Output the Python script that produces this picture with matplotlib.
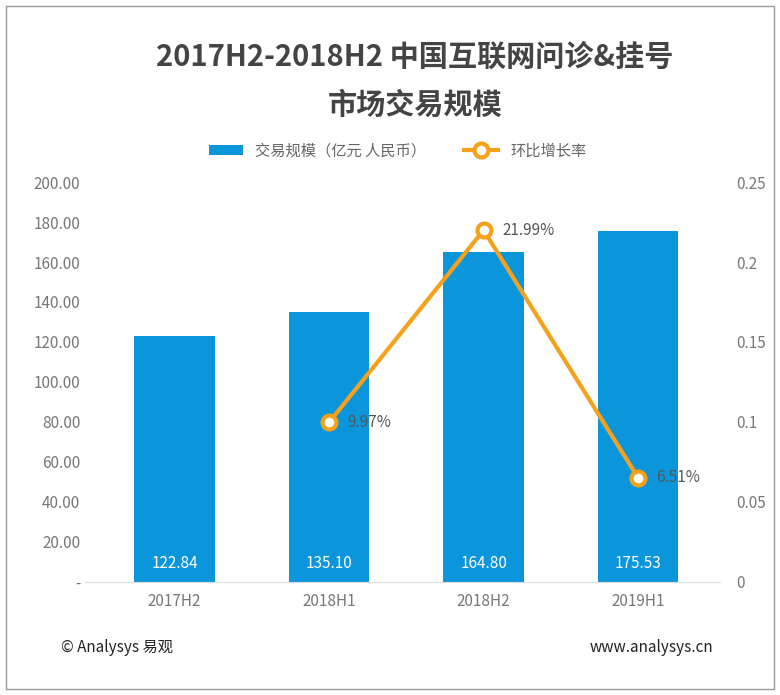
import matplotlib.pyplot as plt
from matplotlib.patches import Rectangle

plt.rcParams['font.family'] = ['Noto Sans CJK SC', 'DejaVu Sans']

periods = ['2017H2', '2018H1', '2018H2', '2019H1']
scale = [122.84, 135.10, 164.80, 175.53]
growth = [None, 0.0997, 0.2199, 0.0651]
growth_labels = ['', '9.97%', '21.99%', '6.51%']

fig = plt.figure(figsize=(7.8, 6.95), dpi=100)
fig.patches.append(Rectangle((0.008, 0.008), 0.984, 0.984, transform=fig.transFigure,
                             fill=False, edgecolor='#999999', lw=1))
ax = fig.add_axes([0.109, 0.163, 0.814, 0.575])
ax2 = ax.twinx()

x = list(range(len(periods)))
ax.bar(x, scale, width=0.52, color='#0b96dc', label='交易规模（亿元 人民币）', zorder=2)
for xi, v in zip(x, scale):
    ax.text(xi, 9, f'{v:.2f}', color='white', ha='center', va='center', fontsize=11)
ax.set_ylim(0, 200)
ax.set_xlim(-0.58, 3.53)
ax.set_yticks(range(0, 201, 20))
ax.set_yticklabels(['-'] + [f'{v:.2f}' for v in range(20, 201, 20)])
ax.set_xticks(x)
ax.set_xticklabels(periods)

gx = [xi for xi, g in zip(x, growth) if g is not None]
gy = [g for g in growth if g is not None]
ax2.plot(gx, gy, color='#f5a11c', lw=3, marker='o', ms=10, mfc='white', mew=3,
         label='环比增长率', zorder=3)
for xi, g, lab in zip(x, growth, growth_labels):
    if g is not None:
        ax2.text(xi + 0.12, g, lab, color='#555555', fontsize=11, va='center')
ax2.set_ylim(0, 0.25)
ax2.set_yticks([0, 0.05, 0.1, 0.15, 0.2, 0.25])
ax2.set_yticklabels(['0', '0.05', '0.1', '0.15', '0.2', '0.25'])

for a in (ax, ax2):
    for s in a.spines.values():
        s.set_visible(False)
    a.tick_params(length=0, colors='#777777', labelsize=11)
ax.spines['bottom'].set_visible(True)
ax.spines['bottom'].set_color('#dddddd')
ax.tick_params(axis='x', pad=8)
ax2.tick_params(axis='y', pad=12)

fig.text(0.532, 0.918, '2017H2-2018H2 中国互联网问诊&挂号', ha='center', va='center',
         fontsize=21, fontweight='bold', color='#444444')
fig.text(0.532, 0.849, '市场交易规模', ha='center', va='center',
         fontsize=21, fontweight='bold', color='#444444')

h1, l1 = ax.get_legend_handles_labels()
h2, l2 = ax2.get_legend_handles_labels()
fig.legend(h1 + h2, l1 + l2, loc='center', bbox_to_anchor=(0.51, 0.783), ncol=2,
           frameon=False, fontsize=11, labelcolor='#666666', handlelength=2.2,
           columnspacing=2.5)

fig.text(0.078, 0.069, '© Analysys 易观', fontsize=11, color='#222222', va='center')
fig.text(0.915, 0.069, 'www.analysys.cn', fontsize=11, color='#222222', va='center', ha='right')

fig.savefig('out.png', dpi=100)
